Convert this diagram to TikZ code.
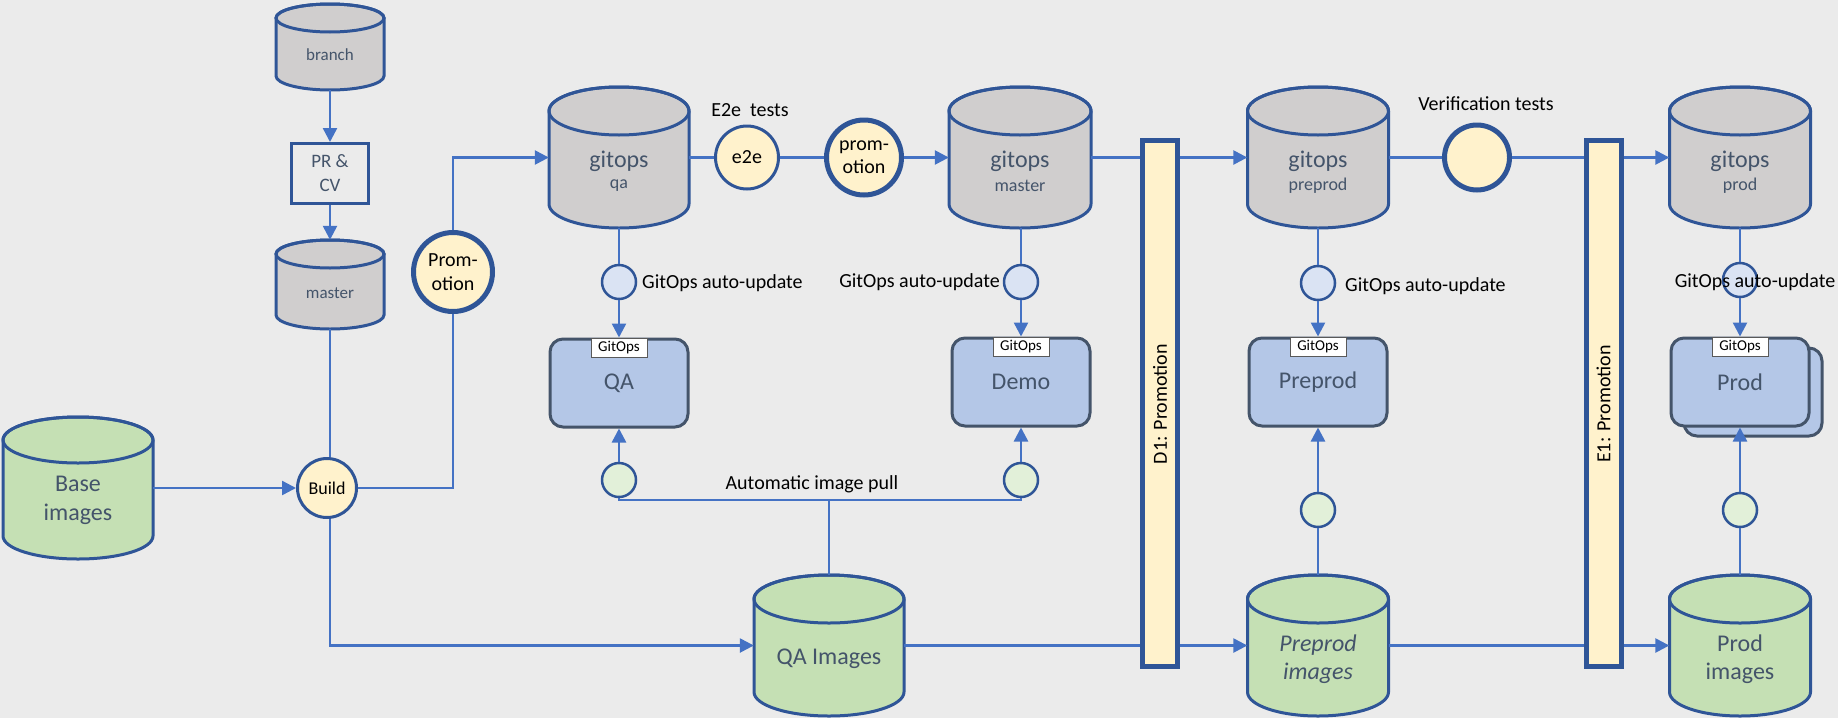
\documentclass[tikz,border=0pt]{standalone}
\usepackage{fontspec}
\setmainfont{Carlito}
\usetikzlibrary{arrows.meta,calc}
\definecolor{bg}{HTML}{EBEBEB}
\definecolor{cylgray}{HTML}{D0CECE}
\definecolor{cylgreen}{HTML}{C5E0B4}
\definecolor{edgeblue}{HTML}{2F5597}
\definecolor{lineblue}{HTML}{4472C4}
\definecolor{boxfill}{HTML}{B4C7E7}
\definecolor{boxedge}{HTML}{44546A}
\definecolor{txtgray}{HTML}{44546A}
\definecolor{pale}{HTML}{FFF2CC}
\definecolor{paleblue}{HTML}{DAE3F3}
\definecolor{palegreen}{HTML}{E2F0D9}
\newcommand\fs[2]{\fontsize{#1}{#2}\selectfont}
% name, cx, ytop, ybot, width, ry, fill
\newcommand\mycyl[7]{%
  \path[draw=edgeblue, line width=3pt, fill=#7] ({#2-#5/2},{-(#3+#6)}) -- ({#2-#5/2},{-(#4-#6)}) arc[start angle=180,end angle=360,x radius={#5/2},y radius={#6}] -- ({#2+#5/2},{-(#3+#6)}) arc[start angle=0,end angle=180,x radius={#5/2},y radius={#6}] -- cycle;
  \draw[draw=edgeblue, line width=3pt] ({#2},{-(#3+#6)}) ellipse[x radius={#5/2},y radius={#6}];
  \node[inner sep=0pt, minimum width={#5*1pt}, minimum height={(#4-#3)*1pt}] (#1) at ({#2},{-(#3+#4)/2}) {};
}
\tikzset{
  conn/.style={draw=lineblue, line width=2.5pt},
  arr/.style={conn, -{Triangle[length=14pt,width=14pt]}},
  rbox/.style={draw=boxedge, line width=3pt, fill=boxfill, rounded corners=13pt, minimum width=138pt, minimum height=88pt, inner sep=0pt, text=txtgray, font=\fs{24}{28}},
  tagbox/.style={draw=black!65, line width=1pt, fill=white, minimum width=56pt, minimum height=19pt, inner sep=0pt, font=\fs{15}{18}},
  yc/.style={circle, draw=edgeblue, line width=3pt, fill=pale, inner sep=0pt, align=center, text=black},
  ycthick/.style={yc, line width=5pt},
  sc/.style={circle, draw=edgeblue, line width=2.5pt, inner sep=0pt, minimum size=34pt},
  barbox/.style={draw=edgeblue, line width=5pt, fill=pale, minimum width=35pt, minimum height=526pt, inner sep=0pt},
  lbl/.style={font=\fs{20}{24}, inner sep=0pt, text=black},
  ctext/.style={text=txtgray, inner sep=0pt, align=center},
}
\begin{document}
\begin{tikzpicture}[x=1pt,y=1pt]
\useasboundingbox (0,0) rectangle (1838,-718);
\fill[bg] (0,0) rectangle (1838,-718);

% cylinders
\mycyl{branch}{330}{4}{90}{108}{14}{cylgray}
\mycyl{master}{330}{240}{329}{108}{14}{cylgray}
\mycyl{base}{78}{417}{559}{150}{23}{cylgreen}
\mycyl{gitqa}{619}{87}{228}{140}{24}{cylgray}
\mycyl{gmaster}{1020}{87}{228}{142}{24}{cylgray}
\mycyl{gpreprod}{1318}{87}{228}{141}{24}{cylgray}
\mycyl{gprod}{1740}{87}{228}{141}{24}{cylgray}
\mycyl{qaimg}{829}{575}{716}{150}{24}{cylgreen}
\mycyl{ppimg}{1318}{575}{716}{141}{24}{cylgreen}
\mycyl{prodimg}{1740}{575}{716}{141}{24}{cylgreen}

% cylinder texts
\node[ctext, font=\fs{17}{20}] (tbranch) at (330,-55) {branch};
\node[ctext, font=\fs{17}{20}] (tmaster) at (330,-293) {master};
\node[ctext, font=\fs{24}{29}] (tbase) at (78,-500) {Base\\images};
\node[ctext, font=\fs{24}{28}] (tgqa) at (619,-161) {gitops};
\node[ctext, font=\fs{18}{20}] (tgqa2) at (619,-186) {qa};
\node[ctext, font=\fs{24}{28}] (tgm) at (1020,-161) {gitops};
\node[ctext, font=\fs{18}{20}] (tgm2) at (1020,-186) {master};
\node[ctext, font=\fs{24}{28}] (tgpp) at (1318,-161) {gitops};
\node[ctext, font=\fs{18}{20}] (tgpp2) at (1318,-186) {preprod};
\node[ctext, font=\fs{24}{28}] (tgp) at (1740,-161) {gitops};
\node[ctext, font=\fs{18}{20}] (tgp2) at (1740,-186) {prod};
\node[ctext, font=\fs{24}{28}] (tqai) at (829,-659) {QA Images};
\node[ctext, font=\fs{24}{28}\itshape] (tppi) at (1318,-659) {Preprod\\images};
\node[ctext, font=\fs{24}{28}] (tpi) at (1740,-659) {Prod\\images};

% PR box
\node[draw=edgeblue, line width=3pt, minimum width=77pt, minimum height=60pt, inner sep=0pt, align=center, text=txtgray, font=\fs{19}{24}] (pr) at (330,-173.5) {PR \&\\CV};

% environment boxes
\node[rbox] (qabox) at (619,-383) {QA};
\node[tagbox] (qatag) at (619,-348) {GitOps};
\node[rbox] (demobox) at (1021,-382) {Demo};
\node[tagbox] (demotag) at (1021,-347) {GitOps};
\node[rbox] (ppbox) at (1318,-382) {Preprod};
\node[tagbox] (pptag) at (1318,-347) {GitOps};
\node[rbox] (prodback) at (1753,-392) {};
\node[rbox] (prodbox) at (1740,-382) {Prod};
\node[tagbox] (prodtag) at (1740,-347) {GitOps};

% circles
\node[ycthick, minimum size=79pt, font=\fs{20}{24}] (promo) at (453,-272) {Prom-\\otion};
\node[yc, minimum size=59pt, font=\fs{18}{20}] (build) at (327,-488) {Build};
\node[yc, minimum size=63pt, font=\fs{20}{24}] (e2e) at (747,-157.5) {e2e};
\node[ycthick, minimum size=75pt, font=\fs{20}{23}] (prom2) at (864,-157.5) {prom-\\otion};
\node[ycthick, minimum size=65pt] (verif) at (1477,-157.5) {};

\node[sc, fill=paleblue] (bqa) at (619,-282) {};
\node[sc, fill=paleblue] (bdemo) at (1021,-282) {};
\node[sc, fill=paleblue] (bpp) at (1318,-283) {};
\node[sc, fill=paleblue] (bprod) at (1740,-280) {};
\node[sc, fill=palegreen] (gcqa) at (619,-480) {};
\node[sc, fill=palegreen] (gcdemo) at (1021,-480) {};
\node[sc, fill=palegreen] (gcpp) at (1318,-510) {};
\node[sc, fill=palegreen] (gcprod) at (1740,-510) {};

% promotion bars
\node[barbox] (d1) at (1160,-403) {};
\node[lbl, rotate=90] (d1t) at (1160,-404) {D1: Promotion};
\node[barbox] (e1) at (1603.5,-403) {};
\node[lbl, rotate=90] (e1t) at (1603.5,-404) {E1: Promotion};

% connectors, left part
\draw[arr] (branch.south) -- (pr.north);
\draw[arr] (pr.south) -- (master.north);
\draw[conn] (master.south) -- (master.south |- build.north);
\draw[arr] (base.east) -- (build.west);
\draw[conn] (build.east) -| (promo.south);
\draw[arr] (promo.north) |- (gitqa.west);
\draw[arr] (master.south |- build.south) |- (qaimg.west);

% top row
\draw[conn] (gitqa.east) -- (e2e.west);
\draw[conn] (e2e.east) -- (prom2.west);
\draw[arr] (prom2.east) -- (gmaster.west);
\draw[conn] (gmaster.east) -- (gmaster.east -| d1.west);
\draw[arr] (d1.east |- gpreprod.west) -- (gpreprod.west);
\draw[conn] (gpreprod.east) -- (verif.west);
\draw[conn] (verif.east) -- (verif.east -| e1.west);
\draw[arr] (e1.east |- gprod.west) -- (gprod.west);

% gitops auto-update columns
\draw[conn] (gitqa.south) -- (bqa.north);
\draw[arr] (bqa.south) -- (qabox.north);
\draw[conn] (gmaster.south -| bdemo.north) -- (bdemo.north);
\draw[arr] (bdemo.south) -- (demobox.north);
\draw[conn] (gpreprod.south) -- (bpp.north);
\draw[arr] (bpp.south) -- (ppbox.north);
\draw[conn] (gprod.south) -- (bprod.north);
\draw[arr] (bprod.south) -- (prodbox.north);

% image pull
\coordinate (pull) at (829,-500);
\draw[arr] (gcqa.north) -- (qabox.south);
\draw[arr] (gcdemo.north) -- (demobox.south);
\draw[conn] (gcqa.south) |- (pull) -| (gcdemo.south);
\draw[conn] (pull) -- (qaimg.north);
\draw[arr] (gcpp.north) -- (ppbox.south);
\draw[conn] (ppimg.north) -- (gcpp.south);
\draw[arr] (gcprod.north) -- (prodbox.south);
\draw[conn] (prodimg.north) -- (gcprod.south);

% bottom row
\draw[conn] (qaimg.east) -- (qaimg.east -| d1.west);
\draw[arr] (d1.east |- ppimg.west) -- (ppimg.west);
\draw[conn] (ppimg.east) -- (ppimg.east -| e1.west);
\draw[arr] (e1.east |- prodimg.west) -- (prodimg.west);

% labels
\node[lbl] (le2e) at (750,-110) {E2e\ \ tests};
\node[lbl] (lverif) at (1486,-104) {Verification tests};
\node[lbl, anchor=west] (lqa) at (642,-283) {GitOps auto-update};
\node[lbl, anchor=east] (ldemo) at (1000,-282) {GitOps auto-update};
\node[lbl, anchor=west] (lpp) at (1345,-286) {GitOps auto-update};
\node[lbl] (lprod) at (1755,-282) {GitOps auto-update};
\node[lbl] (lpull) at (812,-484) {Automatic image pull};
\end{tikzpicture}
\end{document}
